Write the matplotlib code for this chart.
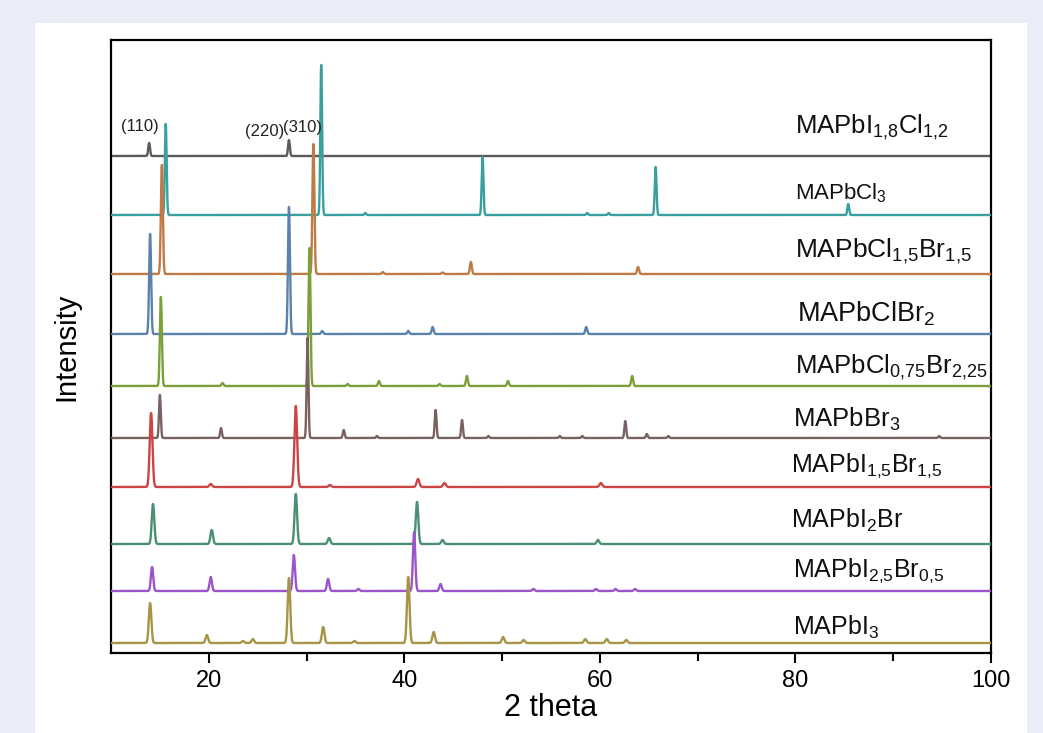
import numpy as np
import matplotlib
matplotlib.use('Agg')
import matplotlib.pyplot as plt
from matplotlib.patches import Rectangle

plt.rcParams['font.family'] = ['Liberation Sans', 'DejaVu Sans']
plt.rcParams['mathtext.default'] = 'regular'

# samples, top of the stack first
names = [r'MAPbI$_{1{,}8}$Cl$_{1{,}2}$', r'MAPbCl$_{3}$', r'MAPbCl$_{1{,}5}$Br$_{1{,}5}$',
         r'MAPbClBr$_{2}$', r'MAPbCl$_{0{,}75}$Br$_{2{,}25}$', r'MAPbBr$_{3}$',
         r'MAPbI$_{1{,}5}$Br$_{1{,}5}$', r'MAPbI$_{2}$Br', r'MAPbI$_{2{,}5}$Br$_{0{,}5}$',
         r'MAPbI$_{3}$']
colors = ['#5a5a5a', '#3a9f9f', '#c07a45', '#5b82aa', '#7aa03a',
          '#7a6262', '#cc4444', '#4a9070', '#9b55cc', '#a89445']
offsets = [497, 438, 379, 319, 267, 215, 166, 109, 62, 10]

# peak positions (2 theta), heights and widths
peak_pos = [
    [13.9, 28.2],
    [15.6, 31.5, 36.0, 48.0, 58.7, 60.9, 65.7, 85.4],
    [15.2, 30.7, 37.8, 43.9, 46.8, 63.9],
    [14.0, 28.2, 31.6, 40.4, 42.9, 58.6],
    [15.1, 21.4, 30.3, 34.2, 37.4, 43.6, 46.4, 50.6, 63.3],
    [15.0, 21.25, 30.1, 33.8, 37.2, 43.2, 45.9, 48.6, 55.9, 58.2, 62.6, 64.8, 67.0, 94.7],
    [14.1, 20.2, 28.9, 32.4, 41.4, 44.1, 60.1],
    [14.3, 20.3, 28.9, 32.3, 41.3, 43.9, 59.8],
    [14.2, 20.2, 28.7, 32.2, 35.3, 41.0, 43.7, 53.2, 59.6, 61.6, 63.6],
    [14.0, 19.8, 23.5, 24.5, 28.2, 31.7, 34.9, 40.4, 43.0, 50.1, 52.2, 58.5, 60.7, 62.7],
]
peak_h = [
    [13, 16],
    [91, 150, 2, 58, 2, 2, 48, 11],
    [109, 130, 2, 1.5, 12, 7],
    [100, 127, 3, 3, 7, 7],
    [89, 3, 138, 2, 5, 2, 10, 5, 10],
    [43, 10, 100, 8, 2, 28, 18, 2, 2, 2, 17, 4, 2, 2],
    [74, 3, 81, 2, 8, 4, 4],
    [40, 14, 50, 6, 42, 4, 4],
    [24, 14, 36, 12, 2, 59, 7, 2, 2, 2, 2],
    [40, 8, 2, 4, 65, 16, 2, 66, 11, 6, 3, 4, 4, 3],
]
peak_w = [0.09, 0.09, 0.1, 0.1, 0.1, 0.09, 0.14, 0.13, 0.12, 0.13]

label_x = [80.0, 80.0, 80.0, 80.2, 80.0, 79.7, 79.5, 79.5, 79.8, 79.8]
label_y = [653 - 133, 653 - 199, 653 - 257, 653 - 322, 653 - 373, 653 - 427,
           653 - 472, 653 - 528, 653 - 577, 653 - 635]
label_size = [18.5, 16, 19, 19.5, 18.5, 18.5, 18, 18, 18, 18]

hkl = ['(110)', '(220)', '(310)']
hkl_x = [12.97, 25.75, 29.6]
hkl_y = [653 - 127, 653 - 132, 653 - 128]

two_theta = np.linspace(10, 100, 9001)

fig = plt.figure(figsize=(10.43, 7.33), dpi=100)
fig.patch.set_facecolor('#e9edf8')
fig.patches.append(Rectangle((35 / 1043, 0), (1027 - 35) / 1043, (733 - 23) / 733,
                             transform=fig.transFigure, facecolor='white',
                             edgecolor='none', zorder=-1))
ax = fig.add_axes([111 / 1043, 80 / 733, 880 / 1043, 613 / 733])
ax.set_facecolor('white')

for i in range(len(names)):
    y = np.full_like(two_theta, offsets[i], dtype=float)
    for c, h in zip(peak_pos[i], peak_h[i]):
        y += h * np.exp(-(two_theta - c) ** 2 / (2 * peak_w[i] ** 2))
    ax.plot(two_theta, y, color=colors[i], lw=1.7, zorder=2 + i)
    ax.text(label_x[i], label_y[i], names[i], fontsize=label_size[i],
            ha='left', va='baseline', color='#111111')

for t, x, y in zip(hkl, hkl_x, hkl_y):
    ax.text(x, y, t, fontsize=12, ha='center', va='center', color='#222222')

ax.set_xlim(10, 100)
ax.set_ylim(0, 613)
ax.set_yticks([])
ax.set_xticks([20, 40, 60, 80, 100])
ax.set_xticks([30, 50, 70, 90], minor=True)
ax.tick_params(axis='x', which='major', direction='out', length=7, width=1.5,
               labelsize=17, pad=5)
ax.tick_params(axis='x', which='minor', direction='out', length=6, width=1.5)
for s in ax.spines.values():
    s.set_linewidth(1.6)
ax.set_xlabel('2 theta', fontsize=22, labelpad=1)
ax.set_ylabel('Intensity', fontsize=21, labelpad=22)

fig.savefig('out.png', dpi=100, facecolor=fig.get_facecolor())
